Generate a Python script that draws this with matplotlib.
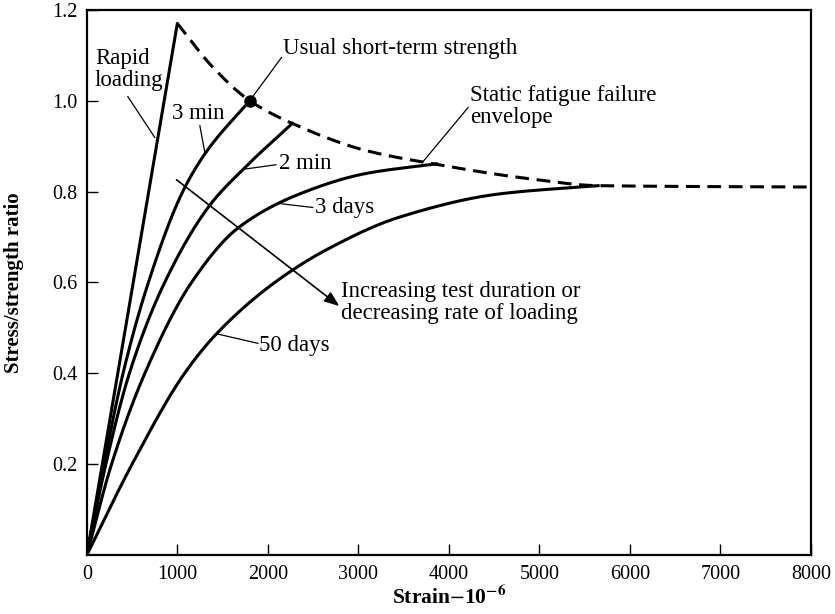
import numpy as np
import matplotlib
matplotlib.use("Agg")
import matplotlib.pyplot as plt

plt.rcParams['font.family'] = ['Liberation Serif', 'DejaVu Serif']
plt.rcParams['mathtext.fontset'] = 'stix'

# ---- data (strain in 1e-6, stress/strength ratio) ----
rapid_x = [0, 1000]
rapid_y = [0, 1.17]

min3_x = [0, 190, 400, 680, 1060, 1322, 1800]
min3_y = [0, 0.2, 0.4, 0.6, 0.80, 0.888, 1.0]

min2_x = [0, 210, 470, 860, 1359, 1727, 2270]
min2_y = [0, 0.2, 0.4, 0.6, 0.77, 0.849, 0.95]

days3_x = [0, 273, 641, 1157, 1672, 2354, 3090, 3864]
days3_y = [0, 0.2, 0.4, 0.6, 0.72, 0.795, 0.84, 0.861]

days50_x = [0, 500, 1080, 1433, 2077, 2667, 3459, 4564, 5650]
days50_y = [0, 0.2, 0.4, 0.487, 0.6, 0.674, 0.744, 0.795, 0.813]

env_x = [1000, 1395, 1800, 2270, 3090, 3800, 4900, 5650, 8000]
env_y = [1.17, 1.073, 1.0, 0.95, 0.89, 0.862, 0.828, 0.813, 0.81]

short_term_pt = (1800, 1.0)

x_ticks = [0, 1000, 2000, 3000, 4000, 5000, 6000, 7000, 8000]
y_ticks = [0.2, 0.4, 0.6, 0.8, 1.0, 1.2]


def pchip(x, y, n=200):
    x = np.asarray(x, float)
    y = np.asarray(y, float)
    h = np.diff(x)
    d = np.diff(y) / h
    m = np.zeros_like(x)
    for k in range(1, len(x) - 1):
        if d[k - 1] * d[k] > 0:
            w1 = 2 * h[k] + h[k - 1]
            w2 = h[k] + 2 * h[k - 1]
            m[k] = (w1 + w2) / (w1 / d[k - 1] + w2 / d[k])
    m[0] = d[0]
    m[-1] = d[-1]
    xs = np.linspace(x[0], x[-1], n)
    idx = np.clip(np.searchsorted(x, xs) - 1, 0, len(h) - 1)
    t = (xs - x[idx]) / h[idx]
    h00 = 2 * t**3 - 3 * t**2 + 1
    h10 = t**3 - 2 * t**2 + t
    h01 = -2 * t**3 + 3 * t**2
    h11 = t**3 - t**2
    ys = (h00 * y[idx] + h10 * h[idx] * m[idx] + h01 * y[idx + 1]
          + h11 * h[idx] * m[idx + 1])
    return xs, ys


fig = plt.figure(figsize=(8.35, 6.14), dpi=100)
ax = fig.add_axes([0.104, 0.096, 0.867, 0.888])

lw = 2.2
ax.plot(rapid_x, rapid_y, color='black', lw=lw, solid_capstyle='round')
for xs_, ys_ in [(min3_x, min3_y), (min2_x, min2_y),
                 (days3_x, days3_y), (days50_x, days50_y)]:
    sx, sy = pchip(xs_, ys_)
    ax.plot(sx, sy, color='black', lw=lw)

ex, ey = pchip(env_x, env_y, 400)
ax.plot(ex, ey, color='black', lw=lw, ls=(0, (4.5, 2.5)))

ax.plot([short_term_pt[0]], [short_term_pt[1]], 'o', color='black', ms=8)

# arrow
ax.annotate('', xy=(2790, 0.548), xytext=(991, 0.826),
            arrowprops=dict(arrowstyle='-|>,head_length=0.9,head_width=0.35',
                            color='black', lw=1.2, shrinkA=0, shrinkB=0))

fs = 16.5
ls_ = 1.05
leader = dict(color='black', lw=0.9)
# labels with leaders
ax.text(88, 1.069, 'Rapid\nloading', fontsize=fs,
        va='center', ha='left', linespacing=ls_)
ax.plot([453, 751], [1.009, 0.919], **leader)

ax.text(945, 0.971, '3 min', fontsize=fs, va='center', ha='left')
ax.plot([1249, 1304], [0.945, 0.886], **leader)

ax.text(2166, 1.114, 'Usual short-term strength', fontsize=fs, va='center', ha='left')
ax.plot([2151, 1800], [1.095, 1.0], **leader)

ax.text(2120, 0.861, '2 min', fontsize=fs, va='center', ha='left')
ax.plot([2090, 1727], [0.859, 0.849], **leader)

ax.text(2520, 0.764, '3 days', fontsize=fs, va='center', ha='left')
ax.plot([2114, 2497], [0.774, 0.765], **leader)

ax.text(1905, 0.4615, '50 days', fontsize=fs, va='center', ha='left')
ax.plot([1433, 1890], [0.487, 0.466], **leader)

ax.text(4232, 0.987, 'Static fatigue failure\nenvelope', fontsize=fs,
        va='center', ha='left', linespacing=ls_)
ax.plot([3716, 4213], [0.866, 0.985], **leader)

ax.text(2814, 0.555, 'Increasing test duration or\ndecreasing rate of loading',
        fontsize=fs, va='center', ha='left', linespacing=ls_)

ax.set_xlim(0, 8000)
ax.set_ylim(0, 1.2)
ax.set_xticks(x_ticks)
ax.set_xticklabels([str(v) for v in x_ticks])
ax.set_yticks(y_ticks)
ax.set_yticklabels([f'{v:.1f}' for v in y_ticks])
ax.tick_params(direction='in', length=8, width=1.0, labelsize=14.5, pad=7)
for sp in ax.spines.values():
    sp.set_linewidth(1.6)

ax.set_xlabel('Strain$-$10$^{\\mathbf{-6}}$', fontsize=15.5, fontweight='bold', labelpad=1)
ax.set_ylabel('Stress/strength ratio', fontsize=15, fontweight='bold', labelpad=20)

fig.savefig('out.png', dpi=100)
